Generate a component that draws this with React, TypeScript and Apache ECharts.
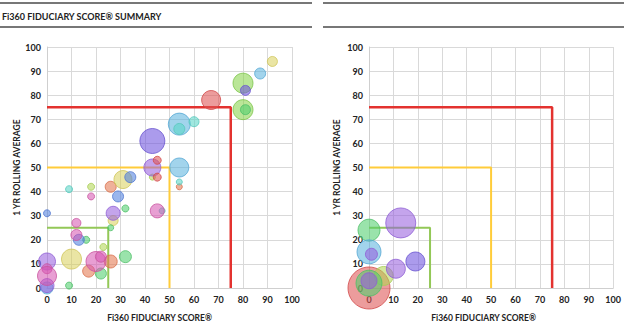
import React, { useEffect, useRef } from "react";
import * as echarts from "echarts";

// Each bubble: [Fi360 Fiduciary Score, 1 YR Rolling Average, bubble size]
const leftOrange = [[26, 42, 5.5], [26, 11, 6.5], [17, 7, 6], [54, 42, 3]];
const leftYellow = [[92, 94, 5], [31, 45, 9], [10, 12, 10], [27, 28, 5]];
const leftLime = [[80, 85, 10], [80, 74, 10]];
const leftYellowGreen = [[18, 42, 3.5], [23, 17, 3.5], [43, 46, 3]];
const leftGreen = [[81, 74, 5], [32, 33, 3.5], [26, 25, 3], [16, 20, 3.5], [32, 13, 6], [22, 6, 5.5], [9, 1, 3.5]];
const leftCyan = [[87, 89, 5.5], [54, 68, 11], [54, 50, 9.5], [0, 0, 6]];
const leftBlue = [[34, 46, 5.5], [29, 38, 5.5], [0, 31, 3.5], [13, 20, 5.5]];
const leftTeal = [[60, 69, 5], [54, 66, 5.5], [9, 41, 3.5], [54, 44, 3], [47, 32, 3]];
const leftPurple = [[81, 82, 5], [43, 61, 12.5]];
const leftViolet = [[43, 50, 8.5], [27, 31, 7], [0, 11, 8.5], [0, 1, 7]];
const leftMagenta = [[18, 38, 3.5], [45, 32, 7], [12, 27, 4.5], [12, 22, 5.5], [20, 11, 10], [22, 13, 5.5], [0, 8, 5], [0, 5, 9.5]];
const leftRed = [[67, 78, 9.5], [45, 53, 4], [45, 46, 4]];

const rightRed = [[0, 0, 21]];
const rightYellowGreen = [[6, 5, 9.5]];
const rightGreen = [[0, 24, 11], [0, 2, 13]];
const rightCyan = [[0, 15, 12]];
const rightPurple = [[19, 11, 9.5]];
const rightViolet = [[13, 27, 15], [1, 14, 6], [11, 8, 9.5], [0, 3, 8]];

// Threshold levels
const thresholds = [75, 50, 25];
const thresholdColors = ["#e3322f", "#ffcc3a", "#93c857"];

const axisTicks = [0, 10, 20, 30, 40, 50, 60, 70, 80, 90, 100];

const palette: Record<string, [string, string]> = {
  orange: ["rgba(228,120,80,0.72)", "#d86f4c"],
  yellow: ["rgba(214,206,80,0.65)", "#cfc65a"],
  lime: ["rgba(132,210,70,0.7)", "#7cc44a"],
  yellowgreen: ["rgba(176,214,80,0.7)", "#a8cc58"],
  green: ["rgba(80,206,110,0.72)", "#4fbf68"],
  cyan: ["rgba(90,178,222,0.7)", "#58a9d4"],
  blue: ["rgba(80,128,222,0.72)", "#5479d0"],
  teal: ["rgba(90,214,200,0.72)", "#58c8bc"],
  purple: ["rgba(110,82,222,0.72)", "#6a55d0"],
  violet: ["rgba(150,92,222,0.7)", "#8f5fd4"],
  magenta: ["rgba(214,84,176,0.7)", "#c9559f"],
  red: ["rgba(222,84,84,0.72)", "#d24b4b"],
};

const FONT = "Lato";

export default function App() {
  const ref = useRef<HTMLDivElement>(null);
  useEffect(() => {
    document.body.style.margin = "0";
    const chart = echarts.init(ref.current!, null, { renderer: "svg" });

    const leftGroups: [string, number[][]][] = [
      ["orange", leftOrange], ["yellow", leftYellow], ["lime", leftLime],
      ["yellowgreen", leftYellowGreen], ["green", leftGreen], ["cyan", leftCyan],
      ["blue", leftBlue], ["teal", leftTeal], ["purple", leftPurple],
      ["violet", leftViolet], ["magenta", leftMagenta], ["red", leftRed],
    ];
    const rightGroups: [string, number[][]][] = [
      ["red", rightRed], ["yellowgreen", rightYellowGreen], ["green", rightGreen],
      ["cyan", rightCyan], ["purple", rightPurple], ["violet", rightViolet],
    ];

    const bubble = (key: string, data: number[][], idx: number) => ({
      type: "scatter",
      xAxisIndex: idx,
      yAxisIndex: idx,
      data,
      clip: false,
      z: 3,
      symbolSize: (v: number[]) => v[2] * 2,
      itemStyle: { color: palette[key][0], borderColor: palette[key][1], borderWidth: 1 },
      emphasis: { disabled: true },
    });

    const lines = (idx: number) =>
      thresholds.map((t, i) => ({
        type: "line",
        xAxisIndex: idx,
        yAxisIndex: idx,
        data: [[0, t], [t, t], [t, 0]],
        symbol: "none",
        z: 2,
        lineStyle: { color: thresholdColors[i], width: i === 0 ? 2.5 : 2 },
      }));

    const xAxis = (idx: number, shift: number) => ({
      type: "value",
      gridIndex: idx,
      min: axisTicks[0],
      max: axisTicks[axisTicks.length - 1],
      interval: 10,
      name: "Fi360 FIDUCIARY SCORE®",
      nameLocation: "middle",
      nameGap: 25,
      nameTextStyle: {
        fontFamily: FONT, fontWeight: "bold", fontSize: 8.5, color: "#222",
        verticalAlign: "top", padding: [0, shift, 0, 0],
      },
      axisLine: { show: true, lineStyle: { color: "#cfcfcf", width: 1 } },
      axisTick: { show: false },
      axisLabel: { margin: 7, fontFamily: FONT, fontWeight: "bold", fontSize: 9, color: "#222" },
      splitLine: { show: true, lineStyle: { color: "#d9d9d9", width: 1 } },
    });
    const yAxis = (idx: number, gap: number) => ({
      type: "value",
      gridIndex: idx,
      min: axisTicks[0],
      max: axisTicks[axisTicks.length - 1],
      interval: 10,
      name: "1 YR ROLLING AVERAGE",
      nameLocation: "middle",
      nameGap: gap,
      nameTextStyle: { fontFamily: FONT, fontWeight: "bold", fontSize: 8.5, color: "#222" },
      axisLine: { show: true, lineStyle: { color: "#cfcfcf", width: 1 } },
      axisTick: { show: false },
      axisLabel: { margin: 6, fontFamily: FONT, fontWeight: "bold", fontSize: 9, color: "#222" },
      splitLine: { show: true, lineStyle: { color: "#d9d9d9", width: 1 } },
    });

    chart.setOption({
      animation: false,
      grid: [
        { left: 47, top: 47, width: 245, height: 241 },
        { left: 369, top: 47, width: 245, height: 241 },
      ],
      xAxis: [xAxis(0, 20), xAxis(1, 15)],
      yAxis: [yAxis(0, 26), yAxis(1, 28)],
      graphic: [
        { type: "line", shape: { x1: 0, y1: 3, x2: 312, y2: 3 }, style: { stroke: "#4a4a4a", lineWidth: 1.5 } },
        { type: "line", shape: { x1: 323, y1: 3, x2: 624, y2: 3 }, style: { stroke: "#4a4a4a", lineWidth: 1.5 } },
        { type: "line", shape: { x1: 0, y1: 27, x2: 312, y2: 27 }, style: { stroke: "#4a4a4a", lineWidth: 1.5 } },
        { type: "line", shape: { x1: 323, y1: 27, x2: 624, y2: 27 }, style: { stroke: "#4a4a4a", lineWidth: 1.5 } },
        {
          type: "text", x: 2, y: 16,
          style: {
            text: "Fi360 FIDUCIARY SCORE® SUMMARY", fill: "#222",
            font: `bold 9px ${FONT}`, verticalAlign: "middle",
          },
        },
      ],
      series: [
        ...lines(0),
        ...lines(1),
        ...leftGroups.map(([k, d]) => bubble(k, d, 0)),
        ...rightGroups.map(([k, d]) => bubble(k, d, 1)),
      ],
    } as any);
    return () => chart.dispose();
  }, []);
  return <div ref={ref} style={{ width: 624, height: 328 }} />;
}
